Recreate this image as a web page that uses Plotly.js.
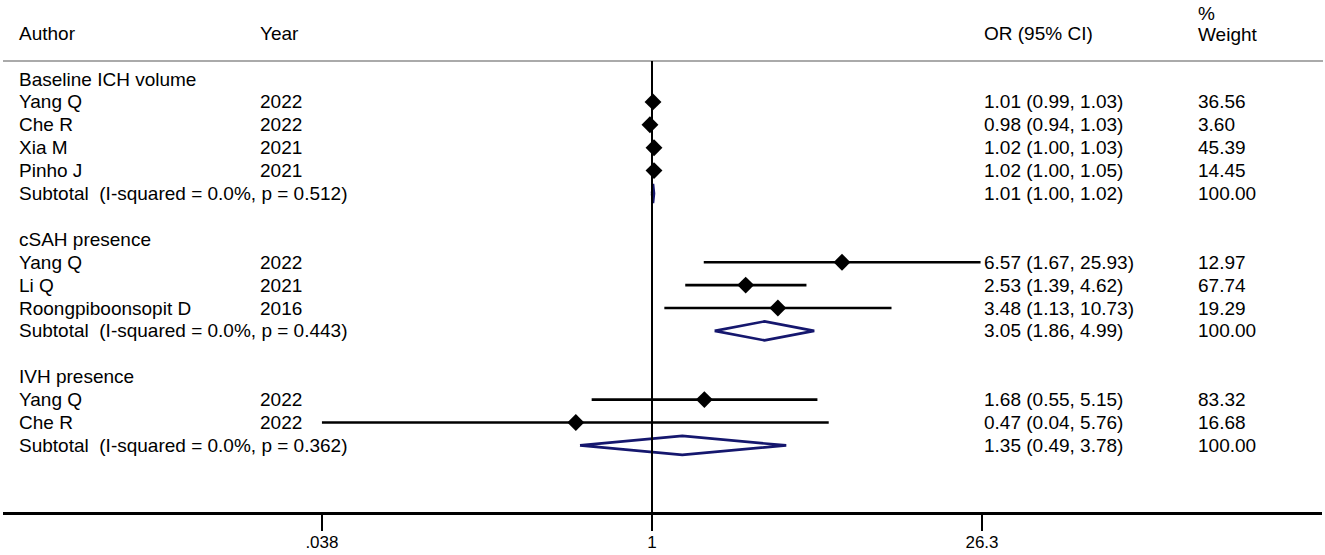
<!DOCTYPE html>
<html>
<head>
<meta charset="utf-8">
<script src="https://cdn.plot.ly/plotly-3.0.1.min.js"></script>
<style>html,body{margin:0;padding:0;background:#fff;}#chart{width:1325px;height:555px;}</style>
</head>
<body>
<div id="chart"></div>
<script>
// ---- data ----
var groupNames = ["Baseline ICH volume", "cSAH presence", "IVH presence"];
var groupIndex = [0, 0, 0, 0, 1, 1, 1, 2, 2];
var authors = ["Yang Q", "Che R", "Xia M", "Pinho J", "Yang Q", "Li Q", "Roongpiboonsopit D", "Yang Q", "Che R"];
var years = ["2022", "2022", "2021", "2021", "2022", "2021", "2016", "2022", "2022"];
var orEst = [1.01, 0.98, 1.02, 1.02, 6.57, 2.53, 3.48, 1.68, 0.47];
var orLo = [0.99, 0.94, 1.00, 1.00, 1.67, 1.39, 1.13, 0.55, 0.038];
var orHi = [1.03, 1.03, 1.03, 1.05, 25.93, 4.62, 10.73, 5.15, 5.76];
var weights = [36.56, 3.60, 45.39, 14.45, 12.97, 67.74, 19.29, 83.32, 16.68];
var subEst = [1.01, 3.05, 1.35];
var subLo = [1.00, 1.86, 0.49];
var subHi = [1.02, 4.99, 3.78];
var subI2 = ["0.0%", "0.0%", "0.0%"];
var subP = ["0.512", "0.443", "0.362"];
var tickVals = [0.038, 1, 26.3];
var tickText = [".038", "1", "26.3"];

// ---- layout helpers (pixels) ----
var W = 1325, H = 555;
var rowTop = 79, rowStep = 22.9;
function rowOfPx(px) { return (px - rowTop) / rowStep; }
var pxPerDec = 232.4, nullPx = 652, axL = 3, axR = 1322;
var FONT = "Liberation Sans, Arial, Helvetica, sans-serif";
var FS = 19;

var colAuthor = 18, colYear = 259, colOR = 983, colW = 1197;

var annotations = [];
function txt(px, row, s, opts) {
  var a = {xref: "paper", yref: "y", x: px / W, y: row, text: s, showarrow: false,
    xanchor: "left", yanchor: "middle", borderpad: 0, font: {family: FONT, size: FS, color: "#000"}};
  if (opts) for (var k in opts) a[k] = opts[k];
  annotations.push(a);
}
// headers
txt(colAuthor, rowOfPx(33), "Author");
txt(colYear, rowOfPx(33), "Year");
txt(colOR, rowOfPx(33), "OR (95% CI)");
txt(colW, rowOfPx(13), "%");
txt(colW, rowOfPx(34), "Weight");

var ciX = [], ciY = [], mX = [], mY = [];
var traces = [];
var row = 0;
for (var g = 0; g < groupNames.length; g++) {
  txt(colAuthor, row, groupNames[g]);
  row++;
  for (var i = 0; i < authors.length; i++) {
    if (groupIndex[i] !== g) continue;
    txt(colAuthor, row, authors[i]);
    txt(colYear, row, years[i]);
    txt(colOR, row, orEst[i].toFixed(2) + " (" + orLo[i].toFixed(2) + ", " + orHi[i].toFixed(2) + ")");
    txt(colW, row, weights[i].toFixed(2));
    ciX.push(orLo[i], orHi[i], null); ciY.push(row, row, null);
    mX.push(orEst[i]); mY.push(row);
    row++;
  }
  txt(colAuthor, row, "Subtotal  (I-squared = " + subI2[g] + ", p = " + subP[g] + ")");
  txt(colOR, row, subEst[g].toFixed(2) + " (" + subLo[g].toFixed(2) + ", " + subHi[g].toFixed(2) + ")");
  txt(colW, row, "100.00");
  var h = 9.5 / rowStep;
  traces.push({type: "scatter", mode: "lines", x: [subLo[g], subEst[g], subHi[g], subEst[g], subLo[g]],
    y: [row, row - h, row, row + h, row], line: {color: "#15176e", width: 2.6}, hoverinfo: "skip"});
  row += 2;
}

traces.unshift({type: "scatter", mode: "lines", x: ciX, y: ciY, line: {color: "#000", width: 2.6}, hoverinfo: "skip"});
traces.push({type: "scatter", mode: "markers", x: mX, y: mY,
  marker: {symbol: "diamond", size: 13, color: "#000"}, hoverinfo: "skip"});

var L = -(nullPx - axL) / pxPerDec, R = (axR - nullPx) / pxPerDec;

var layout = {
  width: W, height: H, margin: {l: 0, r: 0, t: 0, b: 0},
  paper_bgcolor: "#fff", plot_bgcolor: "rgba(0,0,0,0)", showlegend: false,
  xaxis: {type: "log", range: [L, R], domain: [axL / W, axR / W], anchor: "free", position: 1 - 513 / H,
    showgrid: false, zeroline: false, showline: true, linecolor: "#000", linewidth: 2.6,
    ticks: "outside", ticklen: 16, tickwidth: 1.5, tickcolor: "#000", ticklabelstandoff: -3,
    tickvals: tickVals, ticktext: tickText, tickfont: {family: FONT, size: 17, color: "#000"}},
  yaxis: {range: [rowOfPx(H), rowOfPx(0)], showgrid: false, zeroline: false, showline: false,
    showticklabels: false, ticks: ""},
  shapes: [
    {type: "line", xref: "paper", yref: "y", x0: axL / W, x1: 1323 / W, y0: rowOfPx(61), y1: rowOfPx(61),
      line: {color: "#aaaaaa", width: 2}},
    {type: "line", xref: "x", yref: "y", x0: 1, x1: 1, y0: rowOfPx(61), y1: rowOfPx(513),
      line: {color: "#000", width: 2}}
  ],
  annotations: annotations
};

Plotly.newPlot("chart", traces, layout, {displayModeBar: false, staticPlot: true});
</script>
</body>
</html>
